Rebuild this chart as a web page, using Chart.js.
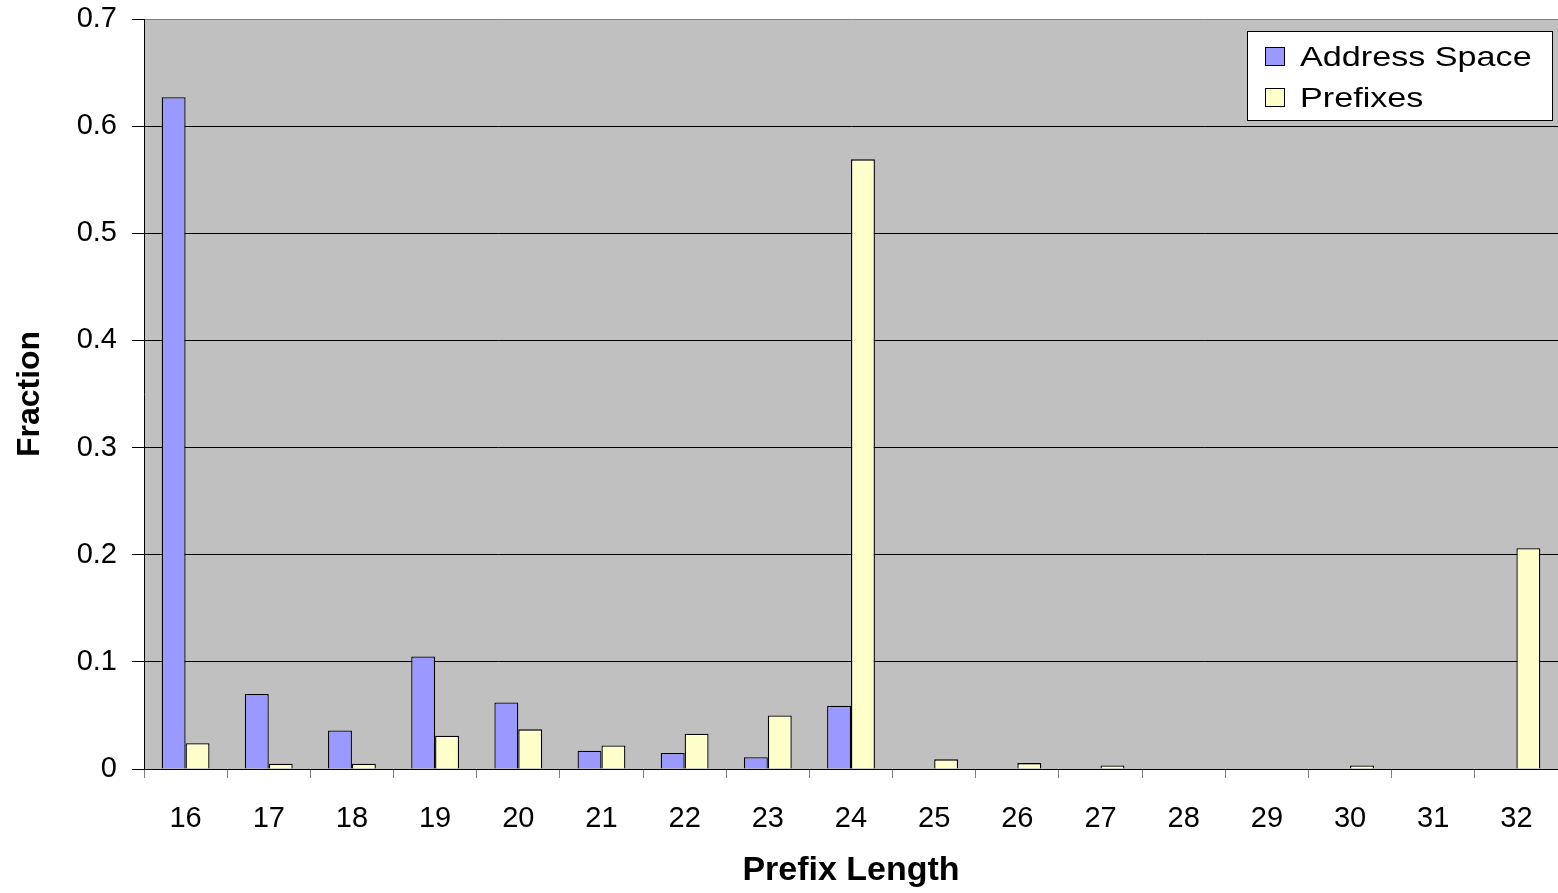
<!DOCTYPE html>
<html>
<head>
<meta charset="utf-8">
<title>Prefix Length</title>
<script src="https://cdn.jsdelivr.net/npm/chart.js@4/dist/chart.umd.min.js"></script>
<style>
  html, body { margin: 0; padding: 0; background: #fff; }
  #wrap { width: 1558px; height: 893px; position: relative; }
</style>
</head>
<body>
<div id="wrap"><canvas id="prefixChart"></canvas></div>
<script>
// prefix lengths on the x axis
const prefixLengths = ['16', '17', '18', '19', '20', '21', '22', '23', '24', '25', '26', '27', '28', '29', '30', '31', '32'];
// fraction of address space per prefix length
const addressSpace = [0.627, 0.070, 0.036, 0.105, 0.062, 0.017, 0.015, 0.011, 0.059, 0, 0, 0, 0, 0, 0, 0, 0];
// fraction of prefixes per prefix length
const prefixes = [0.024, 0.005, 0.005, 0.031, 0.037, 0.022, 0.033, 0.050, 0.569, 0.009, 0.0055, 0.0033, 0, 0, 0.0033, 0, 0.206];
const yTicks = [0, 0.1, 0.2, 0.3, 0.4, 0.5, 0.6, 0.7];

const FONT = "'Liberation Sans', Arial, sans-serif";

// grey plot background like the old spreadsheet chart
const plotBackground = {
  id: 'plotBackground',
  beforeDraw(chart) {
    const { ctx, chartArea: a } = chart;
    ctx.save();
    ctx.fillStyle = '#C0C0C0';
    ctx.fillRect(a.left, a.top, a.right - a.left, a.bottom - a.top);
    ctx.restore();
  }
};

// boxed legend in the top right corner of the plot
const boxLegend = {
  id: 'boxLegend',
  afterDraw(chart) {
    const { ctx } = chart;
    const x = 1247, y = 31, w = 305, h = 89;
    ctx.save();
    ctx.fillStyle = '#fff';
    ctx.fillRect(x, y, w, h);
    ctx.strokeStyle = '#000';
    ctx.lineWidth = 1;
    ctx.strokeRect(x + 0.5, y + 0.5, w, h);
    chart.data.datasets.forEach((ds, i) => {
      const rowY = 47 + i * 41;
      ctx.fillStyle = ds.backgroundColor;
      ctx.fillRect(1265.5, rowY + 0.5, 19, 18);
      ctx.strokeStyle = '#000';
      ctx.strokeRect(1265.5, rowY + 0.5, 19, 18);
      // the original text is a bit wider than plain Arial
      ctx.save();
      ctx.translate(1300, rowY + 19);
      ctx.scale(1.22, 1);
      ctx.font = '28px ' + FONT;
      ctx.fillStyle = '#000';
      ctx.fillText(ds.label, 0, 0);
      ctx.restore();
    });
    ctx.restore();
  }
};

new Chart(document.getElementById('prefixChart'), {
  type: 'bar',
  data: {
    labels: prefixLengths,
    datasets: [
      {
        label: 'Address Space',
        data: addressSpace,
        backgroundColor: '#9999FF',
        borderColor: '#000',
        borderWidth: 1.3
      },
      {
        label: 'Prefixes',
        data: prefixes,
        backgroundColor: '#FFFFCC',
        borderColor: '#000',
        borderWidth: 1.3
      }
    ]
  },
  options: {
    responsive: true,
    maintainAspectRatio: false,
    animation: false,
    categoryPercentage: 0.575,
    barPercentage: 1.0,
    layout: { padding: { top: 19, right: 0, left: 0, bottom: 0 } },
    plugins: {
      legend: { display: false },
      tooltip: { enabled: false }
    },
    scales: {
      x: {
        afterFit(scale) {
          scale.height = 124;
          scale.paddingLeft = 0;
          scale.paddingRight = 0;
        },
        grid: {
          offset: true,
          drawOnChartArea: false,
          drawTicks: true,
          tickLength: 9,
          tickColor: '#808080'
        },
        border: { color: '#000', width: 1 },
        ticks: {
          color: '#000',
          padding: 24,
          font: { family: FONT, size: 29 }
        },
        title: {
          display: true,
          text: 'Prefix Length',
          color: '#000',
          padding: { top: 0, bottom: 2 },
          font: { family: FONT, size: 34, weight: 'bold' }
        }
      },
      y: {
        min: 0,
        max: 0.7,
        afterFit(scale) {
          scale.width = 144;
          scale.paddingTop = 0;
          scale.paddingBottom = 0;
        },
        afterBuildTicks(scale) { scale.ticks = yTicks.map(v => ({ value: v })); },
        grid: {
          color: (c) => (c.tick && c.tick.value === 0.7 ? '#808080' : '#000'),
          tickColor: '#000',
          tickLength: 12,
          lineWidth: 1
        },
        border: { color: '#000', width: 1 },
        ticks: {
          color: '#000',
          padding: 15,
          font: { family: FONT, size: 29 },
          callback: (v) => String(Math.round(v * 10) / 10)
        },
        title: {
          display: true,
          text: 'Fraction',
          color: '#000',
          padding: { top: 11, bottom: 0 },
          font: { family: FONT, size: 32, weight: 'bold' }
        }
      }
    }
  },
  plugins: [plotBackground, boxLegend]
});
</script>
</body>
</html>
